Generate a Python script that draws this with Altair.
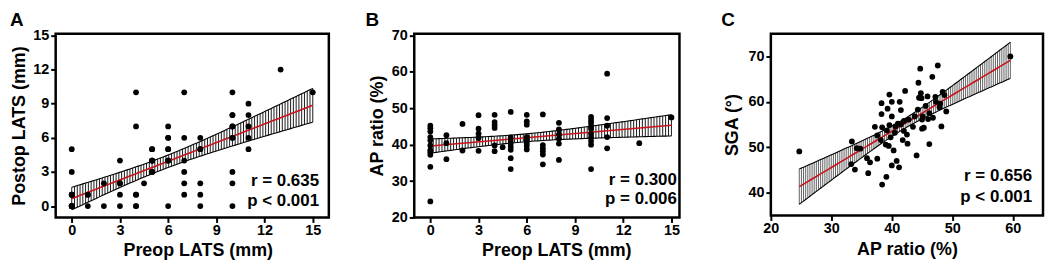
import altair as alt
import numpy as np
import pandas as pd

FONT = "Liberation Sans"

# ---------------- data ----------------
# Preop LATS (mm) per patient (x of panels A and B)
preop_lats = [0, 0, 0, 0, 0, 0, 0, 0, 0, 0, 0,
              1, 1, 1,
              2, 2,
              3, 3, 3, 3, 3,
              4, 4, 4, 4, 4, 4,
              4.5,
              5, 5, 5, 5, 5, 5, 5, 5,
              6, 6, 6, 6, 6, 6, 6, 6, 6,
              7, 7, 7, 7, 7, 7,
              8, 8, 8, 8, 8, 8,
              10, 10, 10, 10, 10, 10, 10, 10, 10, 10,
              11, 11, 11, 11, 11,
              13,
              15]
# Postop LATS (mm) (panel A)
postop_lats = [0, 0, 0, 0, 0, 0, 1, 1, 1, 3, 5,
               0, 1, 1,
               0, 2,
               0, 1, 2, 2, 4,
               0, 0, 1, 1, 7, 10,
               2,
               3, 3, 4, 4, 4, 4, 5, 5,
               0, 4, 4, 4, 5, 5, 6, 6, 7,
               1, 2, 3, 4, 6, 10,
               0, 1, 2, 5, 5, 6,
               0, 2, 3, 6, 6, 7, 7, 8, 8, 10,
               5, 6, 7, 8, 9,
               12,
               10]
# AP ratio (%) (panel B)
ap_ratio_b = [45.2, 44.5, 43.6, 42.1, 41.2, 39.8, 38.5, 37.9, 37.2, 33.9, 24.4,
              42.6, 40.4, 36.0,
              45.7, 38.4,
              48.1, 44.4, 43.0, 41.8, 38.3,
              48.2, 46.2, 45.4, 44.6, 39.8, 38.2,
              39.3,
              49.0, 42.0, 41.0, 40.2, 39.4, 38.6, 36.3, 33.3,
              48.2, 46.4, 45.5, 42.1, 41.8, 41.3, 40.4, 39.6, 38.7,
              48.3, 39.9, 39.0, 38.2, 37.3, 34.6,
              46.0, 44.2, 42.8, 41.6, 40.3, 35.8,
              47.6, 46.8, 46.0, 45.1, 44.4, 43.0, 42.0, 41.0, 40.0, 33.3,
              59.5, 47.3, 45.2, 42.1, 39.0,
              40.4,
              47.5]
# Panel C: AP ratio (%) vs SGA (deg)
ap_ratio_c = [24.7, 33.4, 33.3, 33.9, 34.2, 34.8, 35.9, 36.4, 36.1, 37.6,
              37.6, 38.2, 38.4, 38.3, 38.3, 38.4, 39.1, 39.6, 39.2, 39.5,
              39.0, 39.8, 40.0, 40.0, 40.0, 40.3, 40.6, 40.8, 41.3, 41.2,
              41.5, 41.8, 42.0, 42.0, 42.2, 42.5, 42.6, 40.5, 41.0, 37.2,
              44.1, 44.3, 44.4, 44.7, 44.9, 45.1, 45.3, 45.6, 45.9, 46.0,
              46.2, 46.7, 47.2, 47.6, 48.2, 48.4, 48.7, 49.0, 48.0, 59.6,
              44.8, 46.8, 43.8, 42.8, 45.0, 45.0, 47.3, 46.2, 44.5, 39.6,
              41.5, 43.5, 47.9, 39.3]
sga = [49.1, 51.3, 46.3, 45.1, 49.8, 49.7, 47.6, 46.7, 44.3, 47.5,
       52.6, 51.6, 54.4, 57.3, 59.7, 41.8, 43.5, 61.6, 53.7, 50.3,
       50.6, 52.2, 60.0, 56.8, 46.0, 49.3, 54.6, 47.0, 60.0, 45.6,
       58.2, 51.6, 53.6, 55.8, 62.4, 52.8, 50.8, 53.2, 55.2, 54.5,
       48.2, 58.3, 64.2, 67.3, 60.8, 56.8, 54.3, 59.1, 61.2, 56.2,
       50.7, 65.5, 61.1, 68.0, 54.6, 62.2, 61.5, 57.9, 59.6, 70.0,
       61.9, 56.5, 56.8, 56.1, 56.1, 54.1, 60.0, 57.5, 60.9, 54.9,
       55.0, 54.5, 58.8, 58.5]

stats_a = ["r = 0.635", "p < 0.001"]
stats_b = ["r = 0.300", "p = 0.006"]
stats_c = ["r = 0.656", "p < 0.001"]


# ---------------- linear fit with 95% confidence band ----------------
def t975(df):
    z = 1.959964
    return z + (z ** 3 + z) / (4 * df) + (5 * z ** 5 + 16 * z ** 3 + 3 * z) / (96 * df ** 2)


def fit_band(xs, ys, n_lines):
    x = np.asarray(xs, float)
    y = np.asarray(ys, float)
    n = len(x)
    b, a = np.polyfit(x, y, 1)
    s = np.sqrt(np.sum((y - (a + b * x)) ** 2) / (n - 2))
    xm = x.mean()
    sxx = np.sum((x - xm) ** 2)
    g = np.linspace(x.min(), x.max(), n_lines)
    fit = a + b * g
    half = t975(n - 2) * s * np.sqrt(1.0 / n + (g - xm) ** 2 / sxx)
    return pd.DataFrame({"x": g, "fit": fit, "lo": fit - half, "hi": fit + half})


def panel(xs, ys, n_lines, xdom, ydom, xticks, yticks, xtitle, ytitle,
          width, height, letter, dx, offset, notes, note_x, note_y,
          hatch_color, hatch_w, x_axis_kw, y_axis_kw):
    pts = pd.DataFrame({"x": xs, "y": ys})
    band = fit_band(xs, ys, n_lines)
    txt = pd.DataFrame({"x": [note_x, note_x], "y": note_y, "t": notes})

    xs_ = alt.Scale(domain=xdom, nice=False, zero=False)
    ys_ = alt.Scale(domain=ydom, nice=False, zero=False)
    xax = alt.Axis(values=xticks, title=xtitle, labelFlush=False, **x_axis_kw)
    yax = alt.Axis(values=yticks, title=ytitle, labelFlush=False, **y_axis_kw)

    def X(f):
        return alt.X(f + ":Q", scale=xs_, axis=xax)

    def Y(f):
        return alt.Y(f + ":Q", scale=ys_, axis=yax)

    base = alt.Chart(band)
    hatch = base.mark_rule(color=hatch_color, strokeWidth=hatch_w).encode(
        x=X("x"), y=Y("lo"), y2="hi")
    upper = base.mark_line(color="black", strokeWidth=1.1).encode(x=X("x"), y=Y("hi"))
    lower = base.mark_line(color="black", strokeWidth=1.1).encode(x=X("x"), y=Y("lo"))
    red = base.mark_line(color="#c8141c", strokeWidth=1.6).encode(x=X("x"), y=Y("fit"))
    dots = alt.Chart(pts).mark_circle(size=34, color="black", opacity=1).encode(
        x=X("x"), y=Y("y"))
    text = alt.Chart(txt).mark_text(
        align="right", baseline="alphabetic", fontSize=17, fontWeight="bold",
        font=FONT, color="black").encode(x=X("x"), y=Y("y"), text="t:N")

    return alt.layer(hatch, upper, lower, red, dots, text).properties(
        width=width, height=height,
        title=alt.TitleParams(letter, anchor="start", frame="group", dx=dx,
                              offset=offset, baseline="top", fontSize=19,
                              fontWeight="bold", font=FONT, color="black"))


A = panel(preop_lats, postop_lats, 88, [-1, 16], [-1, 15.15],
          [0, 3, 6, 9, 12, 15], [0, 3, 6, 9, 12, 15],
          "Preop LATS (mm)", "Postop LATS (mm)", 275, 185, "A", -46, -2.25,
          stats_a, 15.39, [1.73, 0.0], "black", 0.9,
          dict(titleX=143, titlePadding=4.5, labelPadding=1),
          dict(titlePadding=4.4, labelPadding=2))
B = panel(preop_lats, ap_ratio_b, 84, [-1, 15.5], [20, 70.5],
          [0, 3, 6, 9, 12, 15], [20, 30, 40, 50, 60, 70],
          "Preop LATS (mm)", "AP ratio (%)", 267, 185, "B", -49, -2.25,
          stats_b, 15.34, [29.0, 23.6], "black", 0.9,
          dict(titleX=143, titlePadding=4.5, labelPadding=1),
          dict(titlePadding=4.4, labelPadding=2))
C = panel(ap_ratio_c, sga, 100, [20, 65], [35, 75],
          [20, 30, 40, 50, 60], [40, 50, 60, 70],
          "AP ratio (%)", "SGA (°)", 274, 183, "C", -50, 3.75,
          stats_c, 63.2, [42.5, 38.0], "#3a3a3a", 0.8,
          dict(titlePadding=6, labelPadding=1),
          dict(titlePadding=6, labelPadding=2))

chart = alt.hconcat(alt.hconcat(A, B, spacing=33), C, spacing=38).properties(
    padding=0
).configure_view(
    stroke="black", strokeWidth=2.5
).configure_axis(
    domain=False, grid=False, ticks=True, tickColor="black", tickWidth=2,
    tickSize=5, labelFont=FONT, labelFontWeight="bold", labelFontSize=14.5,
    labelColor="black", titleFont=FONT, titleFontSize=18,
    titleFontWeight="bold", titleColor="black"
)

chart.save("out.html", embed_options={"renderer": "svg", "actions": False})
